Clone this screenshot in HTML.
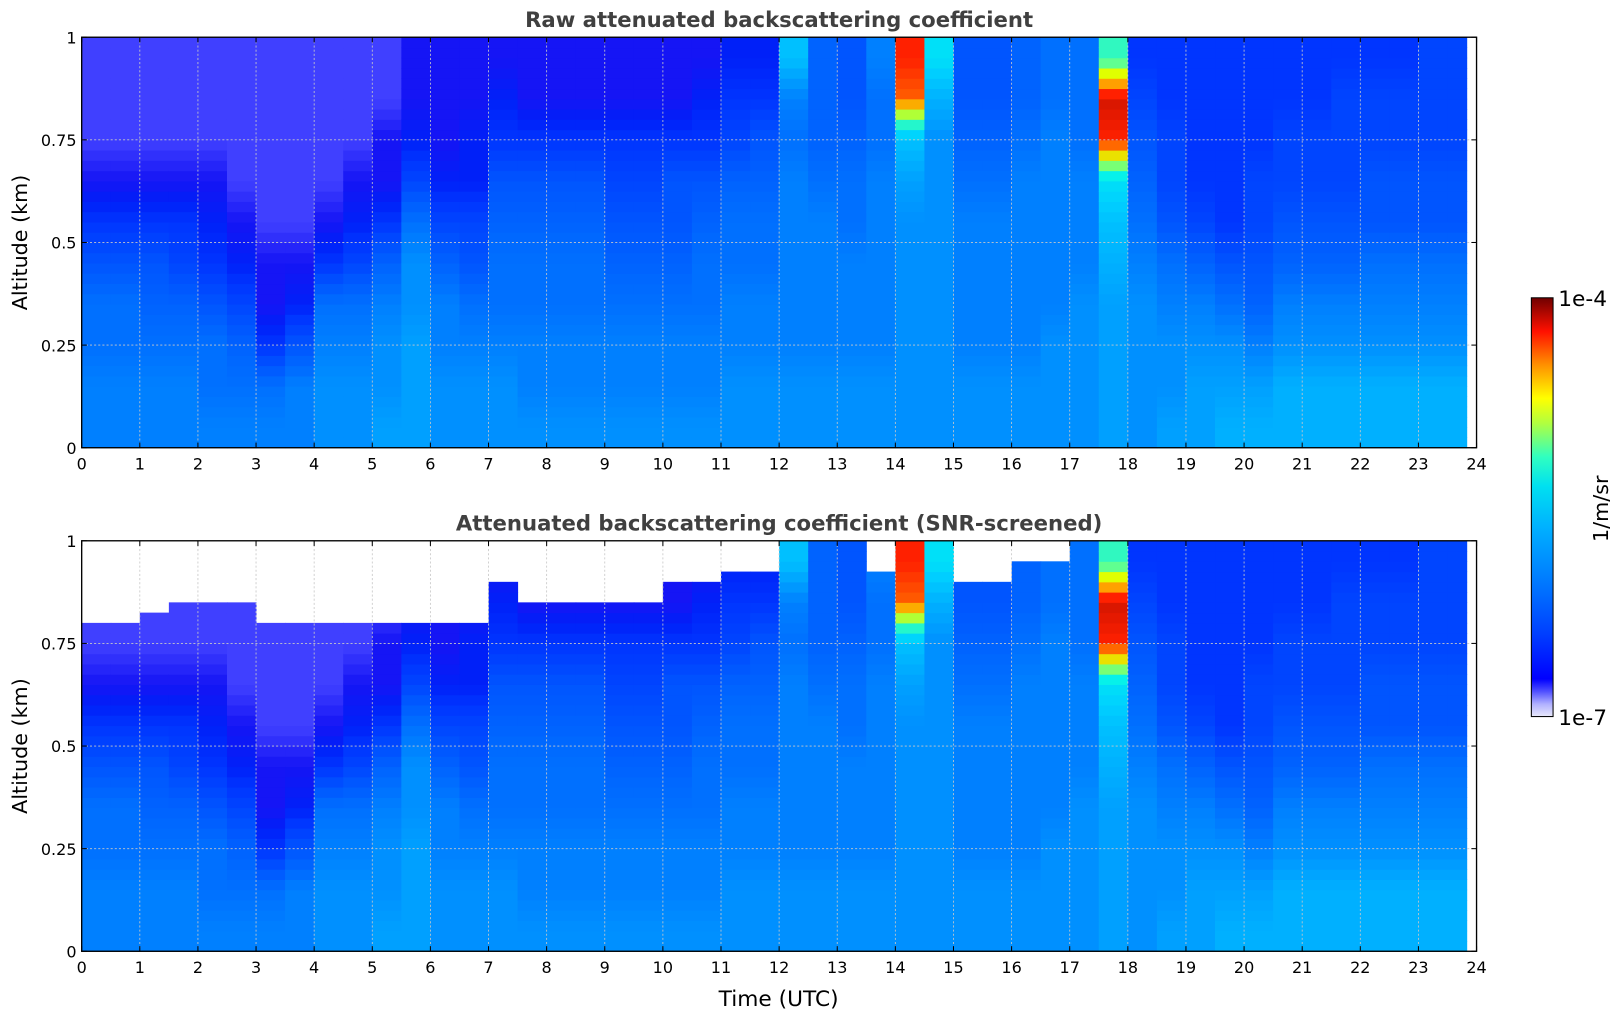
<!DOCTYPE html>
<html><head><meta charset="utf-8">
<style>
body{margin:0;background:#fff;width:1621px;height:1020px;overflow:hidden;}
svg text{font-family:"DejaVu Sans","Liberation Sans",sans-serif;}
</style></head>
<body>
<svg id="chart" width="1621" height="1020" xmlns="http://www.w3.org/2000/svg">
<defs>
<linearGradient id="cbgrad" x1="0" y1="1" x2="0" y2="0">
<stop offset="0" stop-color="#e8e8fa"/><stop offset="0.03" stop-color="#b0b0ff"/><stop offset="0.06" stop-color="#5050ff"/>
<stop offset="0.09" stop-color="#0000ff"/><stop offset="0.2" stop-color="#0040ff"/><stop offset="0.3" stop-color="#0070ff"/>
<stop offset="0.45" stop-color="#00b0ff"/><stop offset="0.55" stop-color="#00e0f0"/><stop offset="0.62" stop-color="#30ffc0"/>
<stop offset="0.7" stop-color="#b0ff40"/><stop offset="0.76" stop-color="#ffff00"/><stop offset="0.84" stop-color="#ff9000"/>
<stop offset="0.92" stop-color="#ff1000"/><stop offset="1" stop-color="#700000"/>
</linearGradient>
</defs>
<g id="root" transform="scale(1.034)"></g>
</svg>
<script>
// time columns (hours, start of each 0.5 h bin)
const timeBins = Array.from({length:48},(_,i)=>i*0.5);
// altitude bins (km, start of each 0.1 km bin)
const altBins = [0,0.1,0.2,0.3,0.4,0.5,0.6,0.7,0.8,0.9];
// signal level per (time, altitude) bottom->top; log10(beta) ≈ -7 + level/10
const profiles = [
[12,12,11,11,9,7,5,4,4,4],[12,12,11,11,9,7,5,4,4,4],[12,12,11,10,9,7,5,4,4,4],[12,12,11,10,8,7,5,4,4,4],
[12,11,11,9,7,6,5,4,4,4],[12,11,10,8,6,5,4,4,4,4],[12,11,7,5,5,4,4,4,4,4],[12,12,9,6,5,4,4,4,4,4],
[13,13,12,11,7,5,4,4,4,4],[13,13,12,11,8,6,5,4,4,4],[14,13,13,12,10,7,5,5,4,4],[14,14,14,13,13,11,8,6,5,5],
[13,13,12,12,10,8,6,5,5,5],[13,13,12,11,9,8,6,6,5,5],[13,13,12,11,11,10,9,7,6,5],[13,12,12,11,11,10,9,7,5,5],
[13,12,12,11,11,10,9,7,5,5],[13,12,12,11,11,10,9,7,5,5],[13,12,12,11,10,9,8,7,5,5],[13,12,12,11,10,9,8,7,5,5],
[13,12,12,11,10,9,9,7,5,5],[13,12,12,11,11,10,9,7,6,5],[13,13,12,12,11,11,10,8,7,6],[13,13,12,12,11,11,10,9,7,6],
[13,13,12,12,12,12,12,11,12,16],[13,13,12,12,12,12,11,10,10,10],[13,13,12,12,12,11,11,10,9,9],[13,13,12,12,12,12,12,11,11,12],
[13,13,13,13,13,13,14,16,26,27],[13,13,13,13,13,13,13,13,15,18],[13,13,12,12,12,12,11,10,9,9],[13,13,12,12,12,12,11,10,9,9],
[13,13,12,12,12,12,12,11,10,10],[13,13,13,12,12,12,12,12,11,11],[13,13,13,13,12,12,12,11,11,11],[14,14,14,14,15,16,18,27,28,20],
[13,13,13,13,12,11,10,9,8,7],[14,13,13,12,11,9,8,8,7,7],[14,14,13,12,10,8,7,7,7,7],[15,14,13,11,9,7,7,7,7,7],
[15,14,12,10,9,8,8,7,7,7],[15,15,13,12,10,9,8,8,7,7],[15,15,13,12,10,9,8,8,7,7],[15,15,13,12,10,9,8,8,8,7],
[15,15,13,12,11,9,9,8,8,7],[15,15,13,12,11,9,9,8,8,7],[15,15,13,12,11,9,9,8,8,8],[15,15,13,12,11,9,9,8,8,8]
];
// SNR screening: altitude (km) above which data is removed, per time bin
const screenTop = [0.8,0.8,0.82,0.85,0.85,0.85,0.8,0.8,0.8,0.8,0.8,0.8,0.78,0.78,0.9,0.85,
0.85,0.85,0.85,0.85,0.88,0.88,0.92,0.92,1,1,1,0.92,1,1,0.9,0.9,0.95,0.95,1,1,1,1,1,1,1,1,1,1,1,1,1,1];
const xTicks = Array.from({length:25},(_,i)=>i);
const yTicks = [0,0.25,0.5,0.75,1];
const yTickLabels = ["0","0.25","0.5","0.75","1"];
const dataEnd = 23.83;

const NS="http://www.w3.org/2000/svg";
const root=document.getElementById('root');
function mk(tag,attrs,parent){const e=document.createElementNS(NS,tag);for(const k in attrs)e.setAttribute(k,attrs[k]);(parent||root).appendChild(e);return e;}
const stops=[[0,[240,240,255]],[3,[120,120,255]],[4,[64,64,255]],[5,[21,21,245]],[6,[0,32,248]],[7,[0,53,255]],[9,[0,85,255]],[11,[0,112,255]],[13,[0,144,255]],[15,[0,176,255]],[17,[0,208,255]],[19,[0,240,240]],[21,[96,255,144]],[23,[224,255,0]],[25,[255,160,0]],[27,[255,32,0]],[30,[128,0,0]]];
function cmap(level){const t=Math.max(0,Math.min(30,level));for(let i=1;i<stops.length;i++){if(t<=stops[i][0]){const a=stops[i-1],b=stops[i];const f=(t-a[0])/(b[0]-a[0]);const c=a[1].map((v,j)=>Math.round(v+(b[1][j]-v)*f));return `rgb(${c})`;}}return 'rgb(128,0,0)';}
const X0=79,X1=1428;
const xs=h=>X0+(X1-X0)*h/24;
const panels=[{top:36,bot:433,title:'Raw attenuated backscattering coefficient',screen:false,name:'raw-panel'},
{top:523,bot:920,title:'Attenuated backscattering coefficient (SNR-screened)',screen:true,name:'screened-panel'}];
panels.forEach(p=>{
  const ys=a=>p.bot-(p.bot-p.top)*a;
  const g=mk('g',{});
  
  
  const sub=4;
  timeBins.forEach((t,i)=>{
    const x0=xs(t), x1=xs(Math.min(t+0.5,dataEnd));
    if(x1<=x0) return;
    const prof=profiles[i];
    altBins.forEach((a,r)=>{
      for(let s=0;s<sub;s++){
        const a0=a+0.1*s/sub, a1=a+0.1*(s+1)/sub;
        if(p.screen && a0>=screenTop[i]) continue;
        const f=(s+0.5)/sub-0.5;
        let lv=prof[r];
        if(f>0&&r<9) lv=lv+(prof[r+1]-lv)*f; else if(f<0&&r>0) lv=lv+(prof[r-1]-lv)*(-f);
        const rc=mk('rect',{x:x0,y:ys(a1),width:x1-x0+0.5,height:ys(a0)-ys(a1)+0.5,fill:cmap(lv)},g);
        
        
      }
    });
  });
  xTicks.forEach(h=>{if(h>0&&h<24){const l=mk('line',{x1:xs(h),x2:xs(h),y1:p.top,y2:p.bot,stroke:'#c8c8c8','stroke-width':0.8,'stroke-dasharray':'2,2'});}});
  yTicks.forEach(v=>{if(v>0&&v<1){const l=mk('line',{x1:X0,x2:X1,y1:ys(v),y2:ys(v),stroke:'#c8c8c8','stroke-width':0.8,'stroke-dasharray':'2,2'});}});
  const fr=mk('rect',{x:X0,y:p.top,width:X1-X0,height:p.bot-p.top,fill:'none',stroke:'#000','stroke-width':1.3});
  
  xTicks.forEach(h=>{
    mk('line',{x1:xs(h),x2:xs(h),y1:p.bot,y2:p.bot-5,stroke:'#000'});
    mk('line',{x1:xs(h),x2:xs(h),y1:p.top,y2:p.top+5,stroke:'#000'});
    const tx=mk('text',{x:xs(h),y:p.bot+21,'font-size':15.5,'text-anchor':'middle',fill:'#000'});tx.textContent=h;
    
  });
  yTicks.forEach((v,k)=>{
    mk('line',{x1:X0,x2:X0+5,y1:ys(v),y2:ys(v),stroke:'#000'});
    mk('line',{x1:X1,x2:X1-5,y1:ys(v),y2:ys(v),stroke:'#000'});
    const tx=mk('text',{x:X0-5,y:ys(v)+6,'font-size':15.5,'text-anchor':'end',fill:'#000'});tx.textContent=yTickLabels[k];
    
  });
  const yl=mk('text',{x:0,y:0,'font-size':20,'text-anchor':'middle',transform:`translate(26,${(p.top+p.bot)/2}) rotate(-90)`});yl.textContent='Altitude (km)';
  
  const tt=mk('text',{x:(X0+X1)/2,y:p.top-10,'font-size':20.5,'font-weight':'bold','text-anchor':'middle',fill:'#404040'});tt.textContent=p.title;
  
});
const xl=mk('text',{x:753,y:973,'font-size':21,'text-anchor':'middle'});xl.textContent='Time (UTC)';

const cb=mk('rect',{x:1481,y:288,width:21,height:405,fill:'url(#cbgrad)',stroke:'#000','stroke-width':1});

const c1=mk('text',{x:1507,y:296,'font-size':21});c1.textContent='1e-4';

const c2=mk('text',{x:1507,y:701,'font-size':21});c2.textContent='1e-7';

const cu=mk('text',{x:0,y:0,'font-size':20,'text-anchor':'middle',transform:'translate(1555,492) rotate(-90)'});cu.textContent='1/m/sr';

</script>
</body></html>
